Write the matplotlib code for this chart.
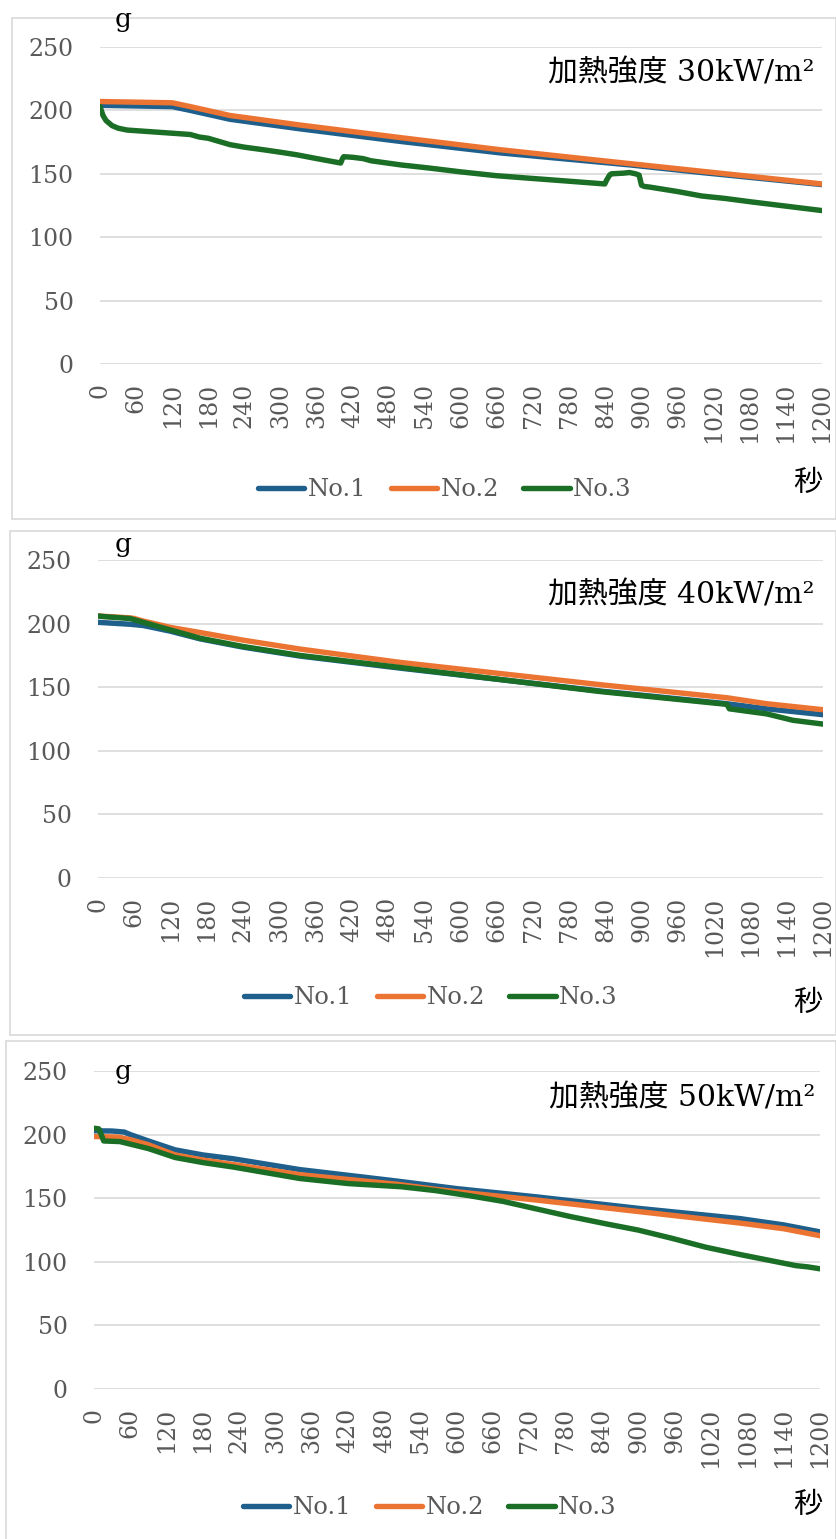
import matplotlib
matplotlib.use("Agg")
import matplotlib.pyplot as plt
from matplotlib.patches import Rectangle

W, H = 836, 1539
DPI = 100

SERIES_NAMES = ["No.1", "No.2", "No.3"]
COLORS = ["#1f5f8b", "#ec7433", "#1b6e25"]
X_TICKS = list(range(0, 1201, 60))
Y_TICKS = [0, 50, 100, 150, 200, 250]

# --- 加熱強度 30kW/m² ---
t30_1 = [0, 60, 120, 150, 216, 332, 500, 665, 881, 1000, 1200]
w30_1 = [204, 203.5, 203, 200, 193, 185.5, 175.5, 166.5, 157, 151, 141.5]
t30_2 = [0, 60, 120, 150, 216, 332, 500, 665, 881, 1000, 1200]
w30_2 = [207, 206.5, 206, 203, 196, 188.5, 178.5, 169, 158, 152, 142]
t30_3 = [0, 5, 10, 20, 30, 45, 60, 90, 120, 150, 165, 180, 216, 240, 271, 300, 327,
         360, 400, 403, 405, 420, 437, 445, 450, 500, 548, 600, 659, 700, 770, 839,
         842, 847, 850, 870, 880, 890, 896, 900, 905, 914, 960, 1000, 1040, 1080,
         1140, 1200]
w30_3 = [203, 196, 192, 188, 186, 184.5, 184, 183, 182, 181, 179, 178, 173, 171, 169,
         167, 165, 162, 158.5, 162, 163.5, 163, 162, 161, 160.3, 157, 154.5, 151.5,
         148.5, 147, 144.5, 142, 145, 149, 150, 150.5, 151, 150, 149, 141, 140, 139.5,
         136, 132.5, 130.5, 128, 124.5, 121]

# --- 加熱強度 40kW/m² ---
t40_1 = [0, 53, 75, 120, 169, 240, 334, 500, 831, 1041, 1107, 1200]
w40_1 = [201, 199.5, 198.5, 194, 188, 181.5, 174.5, 165, 147, 137, 133, 128.4]
t40_2 = [0, 53, 60, 75, 120, 169, 240, 334, 500, 831, 1041, 1107, 1200]
w40_2 = [206, 204.5, 204, 202, 197, 193, 187, 180, 169.5, 152, 141.7, 137, 132.3]
t40_3 = [0, 10, 53, 75, 120, 169, 240, 334, 500, 831, 1041, 1045, 1107, 1150, 1200]
w40_3 = [206, 205.5, 204, 201, 195, 188.5, 182, 175, 165.5, 146.6, 136.5, 133, 129,
         124, 121]

# --- 加熱強度 50kW/m² ---
t50_1 = [0, 30, 50, 60, 90, 134, 180, 230, 340, 500, 600, 732, 900, 1067, 1140, 1200]
w50_1 = [203, 202.8, 202, 200, 195, 188, 184, 181, 172.5, 163.5, 157.5, 151, 142,
         134, 129, 123.5]
t50_2 = [0, 40, 60, 90, 134, 180, 230, 340, 500, 564, 600, 732, 900, 1067, 1140, 1200]
w50_2 = [198.5, 198, 196, 192, 184, 180, 176.5, 168.5, 161, 157, 155, 148.5, 139.5,
         130.5, 126, 120.5]
t50_3 = [0, 8, 12, 16, 43, 60, 90, 134, 180, 230, 340, 420, 508, 564, 620, 676, 732,
         788, 850, 899, 955, 1011, 1070, 1123, 1160, 1180, 1200]
w50_3 = [205, 204.5, 200, 195, 194.5, 192.5, 189, 182, 178, 174.5, 165.5, 161.5, 159,
         156, 152, 147.5, 141.5, 135.5, 129.5, 125, 118.5, 111.5, 105.5, 100.5, 97,
         96, 94.5]

PANELS = [
    dict(title="加熱強度 30kW/m²", series=[(t30_1, w30_1), (t30_2, w30_2), (t30_3, w30_3)],
         frame=(12, 18, 836, 519), axes=(100, 822, 47, 364),
         title_xy=(815, 73), g_xy=(123, 20), sec_xy=(808, 483), legend_xy=(445, 490)),
    dict(title="加熱強度 40kW/m²", series=[(t40_1, w40_1), (t40_2, w40_2), (t40_3, w40_3)],
         frame=(10, 531, 836, 1035), axes=(98, 823, 560, 878),
         title_xy=(815, 595), g_xy=(123, 545), sec_xy=(808, 1003), legend_xy=(431, 998)),
    dict(title="加熱強度 50kW/m²", series=[(t50_1, w50_1), (t50_2, w50_2), (t50_3, w50_3)],
         frame=(6, 1041, 836, 1545), axes=(94, 820, 1071, 1389),
         title_xy=(815, 1098), g_xy=(123, 1072), sec_xy=(808, 1505), legend_xy=(430, 1508)),
]

SERIF = ["DejaVu Serif", "Noto Sans CJK JP"]
TICK_COLOR = "#595959"
GRID_COLOR = "#d9d9d9"

fig = plt.figure(figsize=(W / DPI, H / DPI), dpi=DPI)


def fx(px):
    return px / W


def fy(py):
    return 1 - py / H


for p in PANELS:
    x0, y0, x1, y1 = p["frame"]
    fig.patches.append(Rectangle((fx(x0), fy(y1)), fx(x1 - x0), (y1 - y0) / H,
                                 transform=fig.transFigure, fill=False,
                                 edgecolor=GRID_COLOR, linewidth=1.2))

    left, right, top, bottom = p["axes"]
    ax = fig.add_axes([fx(left), fy(bottom), fx(right - left), (bottom - top) / H])
    handles = []
    for (t, w), name, color in zip(p["series"], SERIES_NAMES, COLORS):
        ln, = ax.plot(t, w, color=color, lw=3.9, label=name,
                      solid_capstyle="round", solid_joinstyle="round")
        handles.append(ln)

    ax.set_xlim(0, 1200)
    ax.set_ylim(0, 250)
    ax.set_xticks(X_TICKS)
    ax.set_xticklabels([str(v) for v in X_TICKS], rotation=90, va="top", ha="center")
    ax.set_yticks(Y_TICKS)
    ax.grid(axis="y", color=GRID_COLOR, linewidth=1.2)
    ax.set_axisbelow(True)
    for s in ax.spines.values():
        s.set_visible(False)
    ax.tick_params(axis="both", length=0, colors=TICK_COLOR, labelsize=17)
    ax.tick_params(axis="x", pad=13.5)
    ax.tick_params(axis="y", pad=19)
    for lab in ax.get_xticklabels() + ax.get_yticklabels():
        lab.set_family(SERIF)

    fig.text(fx(p["title_xy"][0]), fy(p["title_xy"][1]), p["title"], family=SERIF,
             fontsize=21.5, ha="right", va="center", color="black")
    fig.text(fx(p["g_xy"][0]), fy(p["g_xy"][1]), "g", family=SERIF,
             fontsize=19, ha="center", va="center", color="black")
    fig.text(fx(p["sec_xy"][0]), fy(p["sec_xy"][1]), "秒", family=SERIF,
             fontsize=21, ha="center", va="center", color="black")

    leg = fig.legend(handles=handles, loc="center", ncol=3, frameon=False,
                     bbox_to_anchor=(fx(p["legend_xy"][0]), fy(p["legend_xy"][1])),
                     bbox_transform=fig.transFigure,
                     prop={"family": SERIF, "size": 17.5},
                     handlelength=1.9, handletextpad=0.15, columnspacing=1.0)
    for txt in leg.get_texts():
        txt.set_color(TICK_COLOR)

fig.savefig("out.png", dpi=DPI, facecolor="white")
